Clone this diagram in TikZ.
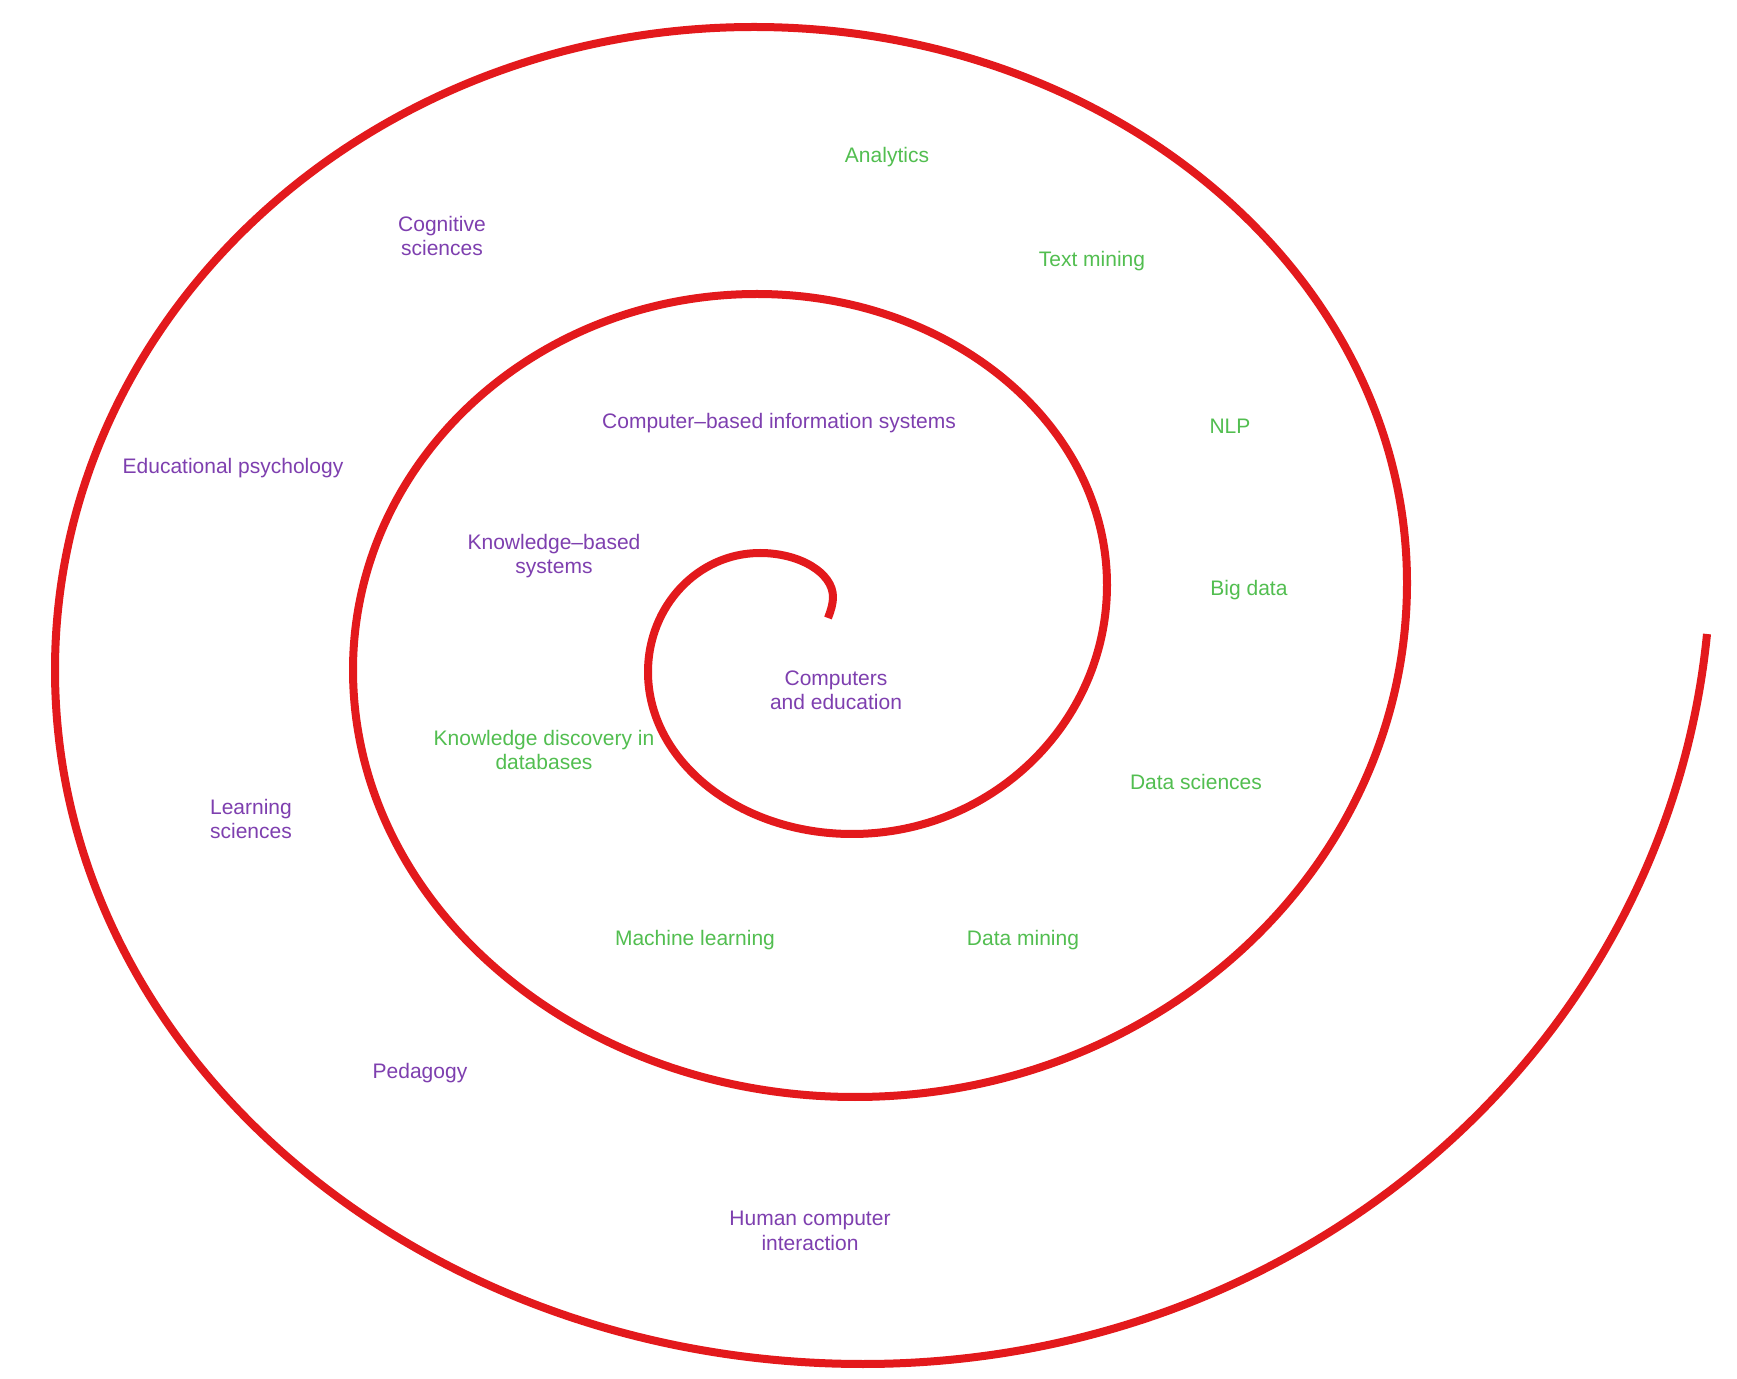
\documentclass[tikz,border=0pt]{standalone}
\usepackage{fontspec}
\setmainfont{Liberation Sans}
\definecolor{spiralred}{HTML}{E3191C}
\definecolor{lblpurple}{HTML}{7E3FAF}
\definecolor{lblgreen}{HTML}{52BE50}
\tikzset{
  spiral/.style={draw=spiralred, line width=4pt, line cap=butt, line join=round},
  lbl/.style={inner sep=0pt, align=center, font=\fontsize{10.5}{12.2}\selectfont},
  plbl/.style={lbl, text=lblpurple},
  glbl/.style={lbl, text=lblgreen}
}
\begin{document}
\begin{tikzpicture}[x=0.5pt, y=-0.5pt]
\useasboundingbox[fill=white] (0,0) rectangle (1737,1379);
% spiral
\coordinate (s0) at (828,618);
\coordinate (s1) at (833,597);
\coordinate (s2) at (760,553);
\coordinate (s3) at (648,672);
\coordinate (s4) at (852,834);
\coordinate (s5) at (1107,585);
\coordinate (s6) at (757,294);
\coordinate (s7) at (353,670);
\coordinate (s8) at (855,1097);
\coordinate (s9) at (1407,583);
\coordinate (s10) at (754,27);
\coordinate (s11) at (55,670);
\coordinate (s12) at (863,1364);
\coordinate (s13) at (1707,634);
\draw[spiral] (s0) .. controls (831,610) and (833,604) .. (s1)
  .. controls (833,573) and (800,553) .. (s2)
  .. controls (698,553) and (648,606) .. (s3)
  .. controls (648,761) and (739,834) .. (s4)
  .. controls (993,834) and (1107,722) .. (s5)
  .. controls (1107,424) and (950,294) .. (s6)
  .. controls (534,294) and (353,462) .. (s7)
  .. controls (353,906) and (578,1097) .. (s8)
  .. controls (1160,1097) and (1407,867) .. (s9)
  .. controls (1407,276) and (1114,27) .. (s10)
  .. controls (368,27) and (55,315) .. (s11)
  .. controls (55,1053) and (417,1364) .. (s12)
  .. controls (1304,1364) and (1666,1048) .. (s13);
% labels
\node[glbl] (analytics) at (887,157) {Analytics};
\node[plbl] (cognitive) at (442,236) {Cognitive\\sciences};
\node[glbl] (textmining) at (1092,261) {Text mining};
\node[plbl] (cbis) at (779,423) {Computer–based information systems};
\node[glbl] (nlp) at (1230,426) {NLP};
\node[plbl] (edpsych) at (233,468) {Educational psychology};
\node[plbl] (kbs) at (554,556) {Knowledge–based\\systems};
\node[glbl] (bigdata) at (1249,590) {Big data};
\node[plbl] (comped) at (836,690) {Computers\\and education};
\node[glbl] (kdd) at (544,750) {Knowledge discovery in\\databases};
\node[glbl] (datasci) at (1196,782) {Data sciences};
\node[plbl] (learnsci) at (251,819) {Learning\\sciences};
\node[glbl] (ml) at (695,940) {Machine learning};
\node[glbl] (dm) at (1023,940) {Data mining};
\node[plbl] (pedagogy) at (420,1073) {Pedagogy};
\node[plbl] (hci) at (810,1231) {Human computer\\interaction};
\end{tikzpicture}
\end{document}
